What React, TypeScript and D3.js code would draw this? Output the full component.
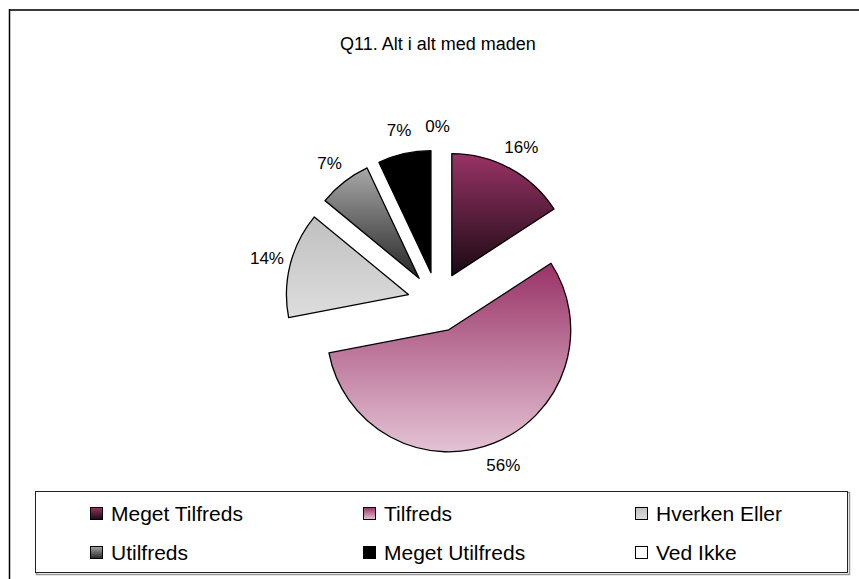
import React from "react";
import * as d3 from "d3";

const categories = ["Meget Tilfreds", "Tilfreds", "Hverken Eller", "Utilfreds", "Meget Utilfreds", "Ved Ikke"];
const values = [15.8, 56.1, 14.0, 7.0, 7.0, 0.0];
const topColors = ["#993366", "#993366", "#c0c0c0", "#a8a8a8", "#000000", "#ffffff"];
const bottomColors = ["#1a0912", "#e4c3d5", "#dddddd", "#262626", "#000000", "#ffffff"];
const title = "Q11. Alt i alt med maden";

const W = 859;
const H = 579;
const cx = 437.5;
const cy = 302;
const R = 122;
const explode = 30;
const labelR = 146;
const FONT = "'Liberation Sans', Arial, sans-serif";

export default function App() {
  const pie = d3.pie<number>().sort(null).value((d) => d);
  const arcs = pie(values);
  const arc = d3.arc<d3.PieArcDatum<number>>().innerRadius(0).outerRadius(R);
  const total = d3.sum(values);

  const legendCols = d3.scaleLinear().domain([0, 1]).range([90, 363]);
  const legendRows = d3.scaleLinear().domain([0, 1]).range([521, 560]);

  return (
    <svg width={W} height={H} style={{ position: "absolute", left: 0, top: 0, background: "#fff" }}>
      <defs>
        {categories.map((c, i) => (
          <linearGradient key={c} id={`g${i}`} x1="0" y1="0" x2="0" y2="1">
            <stop offset="0" stopColor={topColors[i]} />
            <stop offset="1" stopColor={bottomColors[i]} />
          </linearGradient>
        ))}
      </defs>
      <rect x={0} y={0} width={W} height={H} fill="#fff" />
      <line x1={9} x2={W} y1={10} y2={10} stroke="#3a3a3a" strokeWidth={2} />
      <line x1={9.5} x2={9.5} y1={9} y2={H} stroke="#000" strokeWidth={1.5} />

      <text x={438} y={50} textAnchor="middle" fontFamily={FONT} fontSize={18} fill="#000">
        {title}
      </text>

      {arcs.map((a, i) => {
        const mid = (a.startAngle + a.endAngle) / 2;
        const ox = cx + explode * Math.sin(mid);
        const oy = cy - explode * Math.cos(mid);
        const lx = ox + labelR * Math.sin(mid);
        const ly = oy - labelR * Math.cos(mid);
        const pct = Math.round((a.data / total) * 100);
        return (
          <g key={categories[i]}>
            {a.endAngle > a.startAngle && (
              <path
                d={arc(a) || ""}
                transform={`translate(${ox},${oy})`}
                fill={`url(#g${i})`}
                stroke="#000"
                strokeWidth={1.3}
                strokeLinejoin="round"
              />
            )}
            <text
              x={lx}
              y={ly}
              textAnchor="middle"
              dominantBaseline="central"
              fontFamily={FONT}
              fontSize={17}
              fill="#000"
            >
              {pct}%
            </text>
          </g>
        );
      })}

      <rect x={36.5} y={492.5} width={813} height={82} fill="none" stroke="#999" strokeWidth={1.5} />
      <rect x={35.5} y={491.5} width={812} height={81} fill="#fff" stroke="#222" strokeWidth={1} />
      {categories.map((c, i) => {
        const col = i % 3;
        const row = Math.floor(i / 3);
        const x = col === 2 ? legendCols(2) - 1 : legendCols(col);
        const y = legendRows(row);
        return (
          <g key={c}>
            <rect x={x + 0.5} y={y - 13.5} width={12} height={12} fill={`url(#g${i})`} stroke="#000" strokeWidth={1} />
            <text x={x + 21} y={y} fontFamily={FONT} fontSize={21} fill="#000">
              {c}
            </text>
          </g>
        );
      })}
    </svg>
  );
}
